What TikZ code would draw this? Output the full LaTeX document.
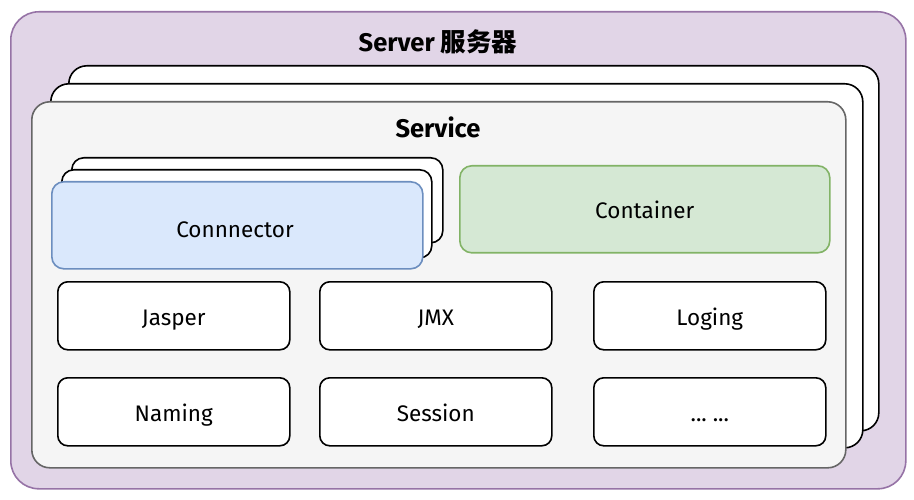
\documentclass[tikz,border=0pt]{standalone}
\usepackage{fontspec}
\setmainfont{Fira Sans}
\newfontfamily\cjk{Noto Sans CJK SC}
\definecolor{purfill}{HTML}{E1D5E7}
\definecolor{purline}{HTML}{9673A6}
\definecolor{grayfill}{HTML}{F5F5F5}
\definecolor{grayline}{HTML}{666666}
\definecolor{bluefill}{HTML}{DAE8FC}
\definecolor{blueline}{HTML}{6C8EBF}
\definecolor{greenfill}{HTML}{D5E8D4}
\definecolor{greenline}{HTML}{82B366}
\begin{document}
\begin{tikzpicture}[x=1pt,y=-1pt,
  panel/.style={draw, line width=1.6pt, rounded corners=#1, anchor=north west, inner sep=0pt},
  stackbox/.style={panel=18pt, fill=white, draw=black},
  lbl/.style={font=\fontsize{22.5}{26}\selectfont, text height=19pt, text depth=0pt},
  smallbox/.style={panel=10pt, fill=white, draw=black, minimum width=232pt, minimum height=68pt, lbl},
  title/.style={font=\bfseries\fontsize{25.5}{30}\selectfont}
]
\useasboundingbox (0,0) rectangle (914,500);
% server
\node[panel=28pt, fill=purfill, draw=purline, minimum width=895pt, minimum height=477pt] (server) at (10,11) {};
\node[title] (serverlbl) at (438,42) {Server {\cjk 服务器}};
% service stack
\node[stackbox, minimum width=810pt, minimum height=365pt] (svc3) at (68,65) {};
\node[stackbox, minimum width=812pt, minimum height=364pt] (svc2) at (50,83) {};
\node[panel=18pt, fill=grayfill, draw=grayline, minimum width=814pt, minimum height=366pt] (svc) at (31,101) {};
\node[title] (svclbl) at (438,127) {Service};
% connector stack
\node[panel=12pt, fill=white, draw=black, minimum width=371pt, minimum height=85pt] (con3) at (71,157) {};
\node[panel=12pt, fill=white, draw=black, minimum width=370pt, minimum height=88pt] (con2) at (61,169) {};
\node[panel=12pt, fill=bluefill, draw=blueline, minimum width=371pt, minimum height=87pt] (con) at (51,181) {};
\node[lbl] (conlbl) at (235,228) {Connnector};
% container
\node[panel=12pt, fill=greenfill, draw=greenline, minimum width=370pt, minimum height=87pt, lbl] (cont) at (459,165) {Container};
% components
\node[smallbox] (jasper) at (57,281) {Jasper};
\node[smallbox] (jmx) at (319,281) {JMX};
\node[smallbox] (loging) at (593,281) {Loging};
\node[smallbox] (naming) at (57,377) {Naming};
\node[smallbox] (session) at (319,377) {Session};
\node[smallbox] (more) at (593,377) {.\kern0pt.\kern0pt.\ .\kern0pt.\kern0pt.};
\end{tikzpicture}
\end{document}
